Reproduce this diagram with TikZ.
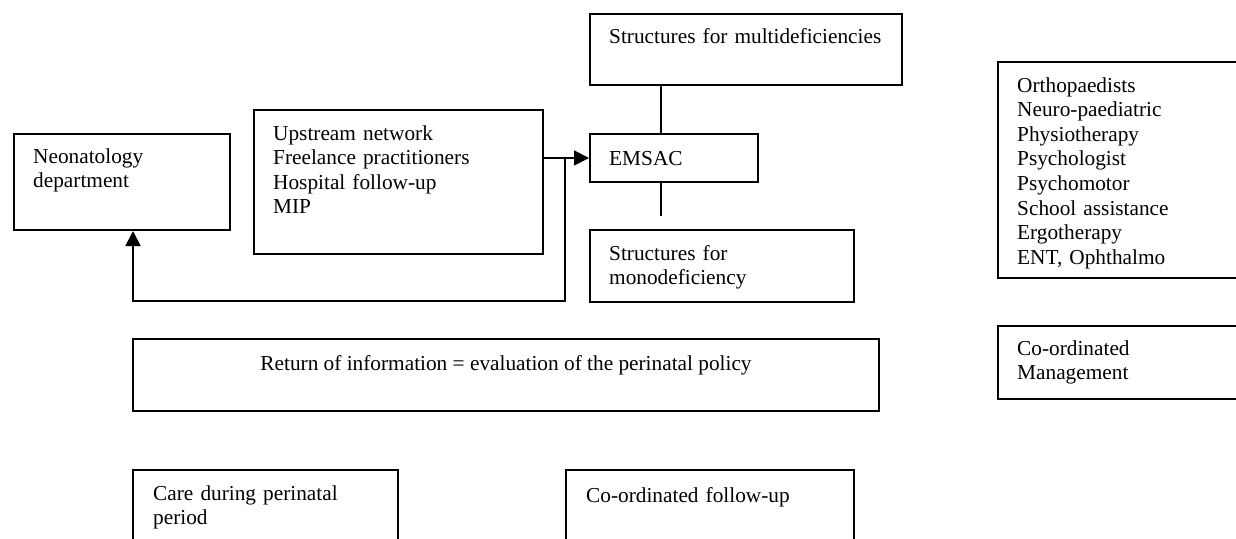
\documentclass[tikz,border=0pt]{standalone}
\usepackage{fontspec}
\setmainfont{Liberation Serif}
\usetikzlibrary{arrows.meta}

\tikzset{%
  box/.style={draw, line width=2pt, inner sep=0pt, anchor=north west},%
  txt/.style={anchor=base west, align=left, inner sep=0pt, text width=#1},%
  txt/.default=14cm,%
  link/.style={line width=1.8pt},%
  flow/.style={link, -{Triangle[length=15pt, width=15pt]}}%
}

\begin{document}
\begin{tikzpicture}[x=1pt, y=-1pt, font=\fontsize{21.3}{24.6}\selectfont]%
\clip (0, 0) rectangle (1236, 538);%
% boxes
\node[box, minimum width=216, minimum height=96] (neo) at (13, 133) {};%
\node[box, minimum width=289, minimum height=144] (up) at (253, 109) {};%
\node[box, minimum width=312, minimum height=71] (multi) at (589, 13) {};%
\node[box, minimum width=168, minimum height=48] (emsac) at (589, 133) {};%
\node[box, minimum width=264, minimum height=72] (mono) at (589, 229) {};%
\node[box, minimum width=260, minimum height=216] (ortho) at (997, 61) {};%
\node[box, minimum width=260, minimum height=73] (mgmt) at (997, 325) {};%
\node[box, minimum width=746, minimum height=72] (ret) at (132, 338) {};%
\node[box, minimum width=265, minimum height=100] (care) at (132, 469) {};%
\node[box, minimum width=288, minimum height=100] (follow) at (565, 469) {};%
% texts
\node[txt] (neo-t) at ([shift={(20, 30)}]neo.north west) {Neonatology\\department};%
\node[txt] (up-t) at ([shift={(20, 31)}]up.north west) {Upstream network\\Freelance practitioners\\Hospital follow-up\\MIP};%
\node[txt] (multi-t) at ([shift={(20, 30)}]multi.north west) {Structures for multideficiencies};%
\node[txt] (emsac-t) at ([shift={(20, 32)}]emsac.north west) {EMSAC};%
\node[txt] (mono-t) at ([shift={(20, 31)}]mono.north west) {Structures for\\monodeficiency};%
\node[txt] (ortho-t) at ([shift={(20, 31)}]ortho.north west) {Orthopaedists\\Neuro-paediatric\\Physiotherapy\\Psychologist\\Psychomotor\\School assistance\\Ergotherapy\\ENT, Ophthalmo};%
\node[txt] (mgmt-t) at ([shift={(20, 30)}]mgmt.north west) {Co-ordinated\\Management};%
\node[anchor=base, inner sep=0pt] (ret-t) at ([shift={(0, 32)}]ret.north) {Return of information = evaluation of the perinatal policy};%
\node[txt] (care-t) at ([shift={(21, 31)}]care.north west) {Care during perinatal\\period};%
\node[txt] (follow-t) at ([shift={(21, 33)}]follow.north west) {Co-ordinated follow-up};%
% connectors
\coordinate (stem) at (661, 0);%
\coordinate (stemend) at (661, 216);%
\coordinate (tap) at (565, 157);%
\coordinate (turn) at (133, 301);%
\draw[link] (multi.south -| stem) -- (emsac.north -| stem);%
\draw[link] (emsac.south -| stem) -- (stemend);%
\draw[flow] (up.east |- emsac.west) -- (emsac.west);%
\draw[flow] (tap) |- (turn) -- (neo.south -| turn);%
\end{tikzpicture}
\end{document}
